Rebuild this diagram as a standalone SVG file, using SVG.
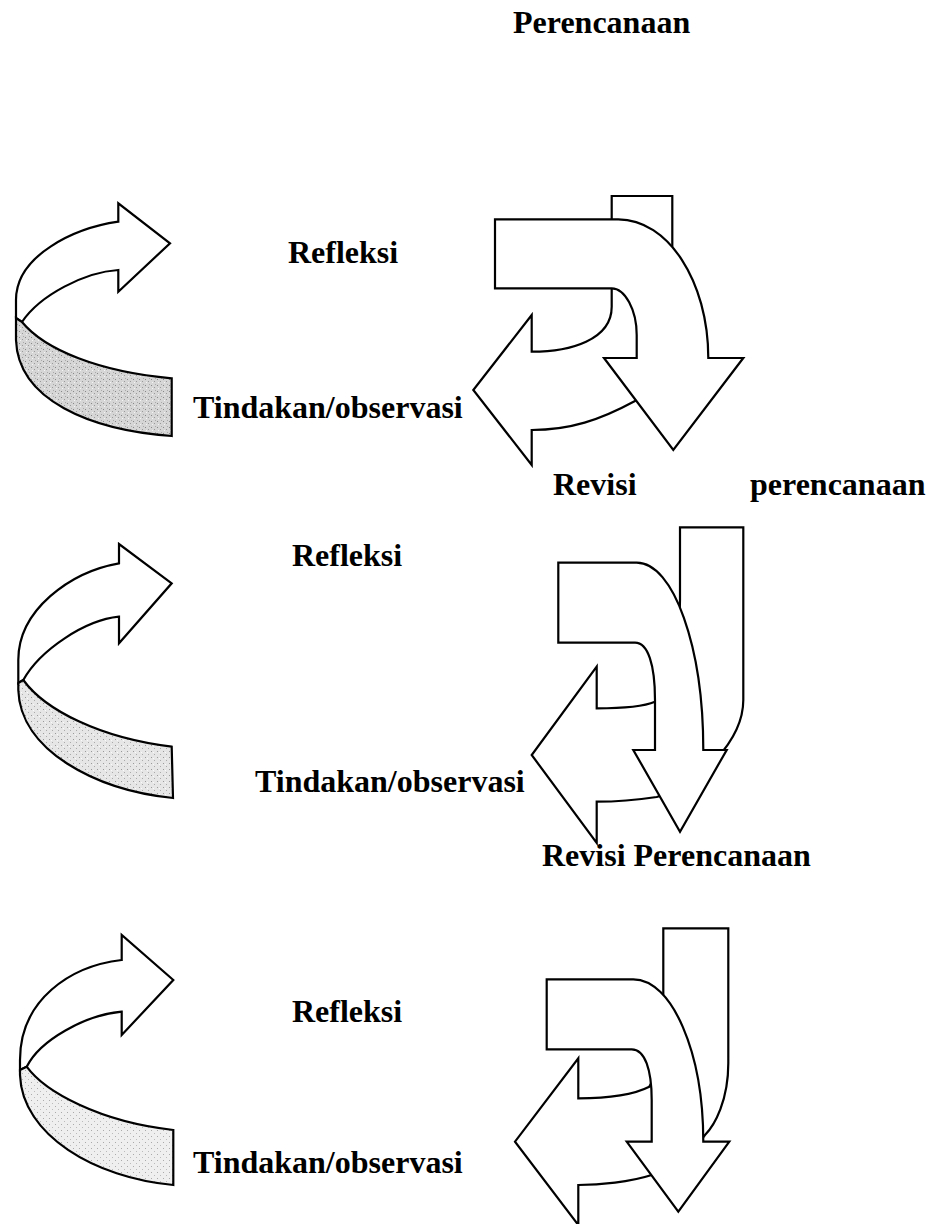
<svg xmlns="http://www.w3.org/2000/svg" width="947" height="1224" viewBox="0 0 947 1224">
<defs>
<style>
.ln{fill:#fff;stroke:#000;stroke-width:2.2;stroke-linejoin:miter}
.lbl{font-family:"Liberation Serif","Times New Roman",serif;font-weight:bold;font-size:32px;fill:#000}
</style>
<pattern id="st1" width="6" height="6" patternUnits="userSpaceOnUse"><rect width="6" height="6" fill="#d6d6d6"/><rect x="1" y="1" width="1" height="1" fill="#888"/><rect x="4" y="3" width="1" height="1" fill="#999"/><rect x="2" y="4" width="1" height="1" fill="#f4f4f4"/><rect x="5" y="0" width="1" height="1" fill="#aaa"/></pattern>
<pattern id="st2" width="6" height="6" patternUnits="userSpaceOnUse"><rect width="6" height="6" fill="#e6e6e6"/><rect x="1" y="1" width="1" height="1" fill="#999"/><rect x="4" y="4" width="1" height="1" fill="#aaa"/><rect x="3" y="2" width="1" height="1" fill="#fafafa"/></pattern>
<pattern id="st3" width="6" height="6" patternUnits="userSpaceOnUse"><rect width="6" height="6" fill="#efefef"/><rect x="1" y="2" width="1" height="1" fill="#aaa"/><rect x="4" y="5" width="1" height="1" fill="#bbb"/></pattern>
</defs>
<rect width="947" height="1224" fill="#fff"/>

<g id="ribbon1">
<path class="ln" d="M118.3,221.7 C75,228 16,255 16,300 L16,318 L22,322 C40,295 85,272 118.3,270 L118.3,291.7 L170,243.3 L118.3,203.3 Z"/>
<path class="ln" style="fill:url(#st1)" d="M22,322 C45,350 100,372 171.7,378.3 L171.7,436 C90,430 18,400 16,340 L16,318 Z"/>
</g>
<g id="ribbon2">
<path class="ln" d="M119,563.3 C70,572 18.3,610 18.3,660 L18.3,683 L23.3,680 C40,650 85,620 119,616.7 L119,643.3 L171.7,583.3 L119,544 Z"/>
<path class="ln" style="fill:url(#st2)" d="M23.3,680 C45,710 100,738 171.7,746.7 L173,798 C95,790 20,750 18.3,690 L18.3,683 Z"/>
</g>
<g id="ribbon3">
<path class="ln" d="M121.7,960 C70,966 20,1000 20,1060 L20,1070 L26.7,1066.7 C40,1040 85,1015 121.7,1011.7 L121.7,1035 L173.3,980 L121.7,935 Z"/>
<path class="ln" style="fill:url(#st3)" d="M26.7,1066.7 C45,1092 100,1122 173.3,1130 L173.3,1185 C95,1178 22,1135 20,1075 L20,1070 Z"/>
</g>

<g id="cycle1">
<path class="ln" d="M611.7,196 L672.3,196 L672.3,320 C672.3,365 660,390 635,401 C600,420 570,430 531.7,430 L531.7,465 L473.3,390 L531.7,315 L531.7,351.7 C570,351.7 611.7,340 611.7,306.7 Z"/>
<path class="ln" d="M495,219.3 L618.3,219.3 C667.8,219.3 708.3,281 708.3,358 L743.3,358 L673.3,450 L604,358 L636.7,358 L636.7,335 C636.7,310 625,288.3 611.7,288.3 L495,288.3 Z"/>
</g>
<g id="cycle2">
<path class="ln" d="M680,527.3 L743.3,527.3 L743.3,700 C743.3,740 700,785 656.7,797 C630,801 610,801.7 596.7,801.7 L596.7,843 L531.7,755 L596.7,666.7 L596.7,708.3 C625,708.3 645,706 655,701.7 C670,690 680,650 680,600 Z"/>
<path class="ln" d="M558.3,562.7 L636.7,562.7 C673.5,562.7 703.3,646.5 703.3,750 L726.7,750 L680,831.7 L633.3,750 L655,750 L655,700 C655,665 648,642.7 635,642.7 L558.3,642.7 Z"/>
</g>
<g id="cycle3">
<path class="ln" d="M663.3,928.3 L728.3,928.3 L728.3,1063.3 C728.3,1100 715,1125 705,1135 C690,1155 670,1170 651.7,1175 C630,1182 600,1185 578.3,1185 L578.3,1225 L515,1141.7 L578.3,1058.3 L578.3,1098.3 C610,1098.3 635,1094 649.3,1086.7 C660,1070 663.3,1040 663.3,1000 Z"/>
<path class="ln" d="M546.7,979.3 L633.3,979.3 C671.9,979.3 703.3,1052 703.3,1141.7 L729.3,1141.7 L678.3,1211.7 L626.7,1141.7 L651.7,1141.7 L651.7,1100 C651.7,1070 645,1049.3 631.7,1049.3 L546.7,1049.3 Z"/>
</g>

<g id="connectors"/>

<g id="labels">
<text class="lbl" x="513" y="33">Perencanaan</text>
<text class="lbl" x="288" y="263">Refleksi</text>
<text class="lbl" x="193" y="418">Tindakan/observasi</text>
<text class="lbl" x="553" y="495">Revisi</text>
<text class="lbl" x="750" y="495">perencanaan</text>
<text class="lbl" x="292" y="566">Refleksi</text>
<text class="lbl" x="255" y="792">Tindakan/observasi</text>
<text class="lbl" x="542" y="866">Revisi Perencanaan</text>
<text class="lbl" x="292" y="1022">Refleksi</text>
<text class="lbl" x="193" y="1173">Tindakan/observasi</text>
</g>
</svg>
